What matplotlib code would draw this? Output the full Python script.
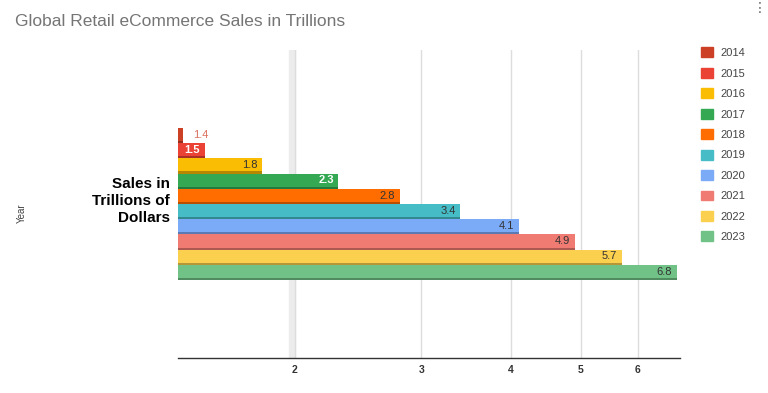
import numpy as np
import matplotlib.pyplot as plt
from matplotlib.colors import to_rgb

plt.rcParams['font.family'] = ['Liberation Sans', 'DejaVu Sans']

years = ['2014', '2015', '2016', '2017', '2018', '2019', '2020', '2021', '2022', '2023']
sales = [1.4, 1.5, 1.8, 2.3, 2.8, 3.4, 4.1, 4.9, 5.7, 6.8]
colors = ['#cc4125', '#ea4335', '#fbbc04', '#34a853', '#ff6d01',
          '#46bdc6', '#7baaf7', '#f07b72', '#fcd04f', '#71c287']
label_colors = ['#d9705e', 'white', '#333333', 'white', '#333333',
                '#333333', '#333333', '#333333', '#333333', '#333333']
ticks = [2, 3, 4, 5, 6]

def darker(c, f=0.72):
  r, g, b = to_rgb(c)
  return (r * f, g * f, b * f)

fig = plt.figure(figsize=(7.68, 3.93), dpi=100)
ax = fig.add_axes([178 / 768, 35 / 393, 502 / 768, 308 / 393])

h = 0.0494
n = len(sales)
ys = [-(n / 2 - 0.5 - i) * h for i in range(n)]
xmin = 1.376

for y, v, c, lc in zip(ys, sales, colors, label_colors):
  ax.barh(y, v - xmin, left=xmin, height=h, color=c, zorder=3)
  ax.barh(y + h * 0.43, v - xmin, left=xmin, height=h * 0.14, color=darker(c), zorder=3)
  if v == 1.4:
    ax.text(v * 1.03, y - h * 0.05, f'{v}', color=lc, fontsize=8,
            va='center', ha='left', zorder=4)
  else:
    bold = lc == 'white'
    ax.text(v * 0.985, y - h * 0.05, f'{v}', color=lc, fontsize=8,
            va='center', ha='right', zorder=4,
            fontweight='bold' if bold else 'normal')

ax.set_xscale('log')
ax.set_xlim(xmin, 6.87)
ax.set_ylim(0.5, -0.5)
ax.set_xticks(ticks)
ax.set_xticklabels([str(t) for t in ticks], fontsize=7.5, fontweight='bold', color='#333333')
ax.minorticks_off()
ax.tick_params(axis='x', length=0, pad=5)
ax.set_yticks([])
ax.grid(axis='x', color='#dddddd', linewidth=1, zorder=0)
ax.axvspan(1.965, 2.0, color='#ececec', zorder=1)
for s in ['top', 'right', 'left']:
  ax.spines[s].set_visible(False)
ax.spines['bottom'].set_color('#333333')
ax.spines['bottom'].set_linewidth(1)

fig.text(170 / 768, 1 - 201 / 393, 'Sales in\nTrillions of\nDollars', ha='right', va='center',
         fontsize=11, fontweight='bold', color='black', linespacing=1.25)
fig.text(22 / 768, 1 - 213 / 393, 'Year', rotation=90, ha='center', va='center',
         fontsize=7, color='#444444')
fig.text(15 / 768, 1 - 22 / 393, 'Global Retail eCommerce Sales in Trillions', ha='left',
         va='center', fontsize=12.5, color='#757575')
fig.text(760 / 768, 1 - 8 / 393, '⋮', ha='center', va='center', fontsize=10, color='#666666')

handles = [plt.Rectangle((0, 0), 1, 1, color=c) for c in colors]
fig.legend(handles, years, loc='upper left', bbox_to_anchor=(697 / 768, 1 - 43 / 393),
           frameon=False, fontsize=8, handlelength=1.0, handleheight=1.0,
           labelspacing=0.87, handletextpad=0.7, labelcolor='#444444', borderaxespad=0)

plt.savefig('out.png', dpi=100)
